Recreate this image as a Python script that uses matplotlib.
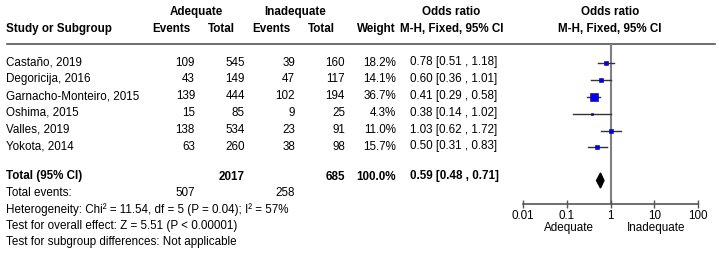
import matplotlib
matplotlib.use("Agg")
import matplotlib.pyplot as plt
import numpy as np

studies = ["Castaño, 2019", "Degoricija, 2016", "Garnacho-Monteiro, 2015",
           "Oshima, 2015", "Valles, 2019", "Yokota, 2014"]
adq_events = [109, 43, 139, 15, 138, 63]
adq_total = [545, 149, 444, 85, 534, 260]
inadq_events = [39, 47, 102, 9, 23, 38]
inadq_total = [160, 117, 194, 25, 91, 98]
weights = [18.2, 14.1, 36.7, 4.3, 11.0, 15.7]
or_est = [0.78, 0.60, 0.41, 0.38, 1.03, 0.50]
or_low = [0.51, 0.36, 0.29, 0.14, 0.62, 0.31]
or_high = [1.18, 1.01, 0.58, 1.02, 1.72, 0.83]
total_or = [0.59, 0.48, 0.71]
total_n = [2017, 685]
total_events = [507, 258]
axis_ticks = [0.01, 0.1, 1, 10, 100]
axis_ticklabels = ["0.01", "0.1", "1", "10", "100"]

plt.rcParams['font.family'] = ['Liberation Sans', 'DejaVu Sans']
FS = 8.4
W, H = 719, 254
fig = plt.figure(figsize=(W / 100, H / 100), dpi=100)

# table layer in pixel coordinates
tab = fig.add_axes([0, 0, 1, 1])
tab.set_xlim(0, W)
tab.set_ylim(H, 0)
tab.axis('off')

def T(x, y, s, ha='left', bold=False):
    tab.text(x, y, s, ha=ha, va='center', fontsize=FS,
             fontweight='bold' if bold else 'normal', color='black')

# headers
T(196, 12, "Adequate", 'center', True)
T(295, 12, "Inadequate", 'center', True)
T(451, 12, "Odds ratio", 'center', True)
T(610, 12, "Odds ratio", 'center', True)
T(6, 29, "Study or Subgroup", 'left', True)
T(171, 29, "Events", 'center', True)
T(221, 29, "Total", 'center', True)
T(271, 29, "Events", 'center', True)
T(321, 29, "Total", 'center', True)
T(396, 29, "Weight", 'right', True)
T(452, 29, "M-H, Fixed, 95% CI", 'center', True)
T(610, 29, "M-H, Fixed, 95% CI", 'center', True)
tab.plot([7, 715], [43.5, 43.5], color='#555555', lw=1.2)

row0, dy = 62.5, 16.8
rows_y = [row0 + dy * i for i in range(len(studies))]
for i, y in enumerate(rows_y):
    T(6, y, studies[i])
    T(195, y, str(adq_events[i]), 'right')
    T(245, y, str(adq_total[i]), 'right')
    T(295, y, str(inadq_events[i]), 'right')
    T(345, y, str(inadq_total[i]), 'right')
    T(396, y, f"{weights[i]:.1f}%", 'right')
    T(410, y, f"{or_est[i]:.2f} [{or_low[i]:.2f} , {or_high[i]:.2f}]")

ytot = 176.5
T(6, ytot, "Total (95% CI)", 'left', True)
T(245, ytot, str(total_n[0]), 'right', True)
T(345, ytot, str(total_n[1]), 'right', True)
T(396, ytot, f"{sum(weights):.1f}%", 'right', True)
T(410, ytot, f"{total_or[0]:.2f} [{total_or[1]:.2f} , {total_or[2]:.2f}]", 'left', True)
T(6, 193, "Total events:")
T(195, 193, str(total_events[0]), 'right')
T(295, 193, str(total_events[1]), 'right')
T(6, 209.5, "Heterogeneity: Chi² = 11.54, df = 5 (P = 0.04); I² = 57%")
T(6, 226, "Test for overall effect: Z = 5.51 (P < 0.00001)")
T(6, 242, "Test for subgroup differences: Not applicable")

# forest layer
x0, x1 = 523, 698
ytop, ybot = 44, 204
fa = fig.add_axes([x0 / W, 1 - ybot / H, (x1 - x0) / W, (ybot - ytop) / H])
fa.set_xscale('log')
fa.set_xlim(0.01, 100)
fa.set_ylim(ybot, ytop)
fa.patch.set_alpha(0)
for s in ['top', 'right', 'left']:
    fa.spines[s].set_visible(False)
fa.spines['bottom'].set_color('#555555')
fa.spines['bottom'].set_linewidth(1.2)
fa.set_yticks([])
fa.set_xticks(axis_ticks)
fa.set_xticklabels(axis_ticklabels, fontsize=FS)
fa.xaxis.set_minor_locator(matplotlib.ticker.NullLocator())
fa.tick_params(axis='x', direction='inout', length=6, width=1, color='#555555', pad=1.5)
fa.axvline(1, color='#808080', lw=1.5, zorder=1)

for i, y in enumerate(rows_y):
    ym = y + 1
    fa.plot([or_low[i], or_high[i]], [ym, ym], color='#333333', lw=1, zorder=2)
    side = 1.17 * np.sqrt(weights[i])
    fa.plot([or_est[i]], [ym], marker='s', ms=side * 0.72, color='#0000ee',
            mec='#000088', mew=0.4, zorder=3)

yd = 180.5
fa.fill([total_or[1], total_or[0], total_or[2], total_or[0]],
        [yd, yd - 7.5, yd, yd + 7.5], color='black', zorder=3)

tab.text(569, 228, "Adequate", ha='center', va='center', fontsize=FS)
tab.text(656, 228, "Inadequate", ha='center', va='center', fontsize=FS)

fig.savefig("out.png", dpi=100)
